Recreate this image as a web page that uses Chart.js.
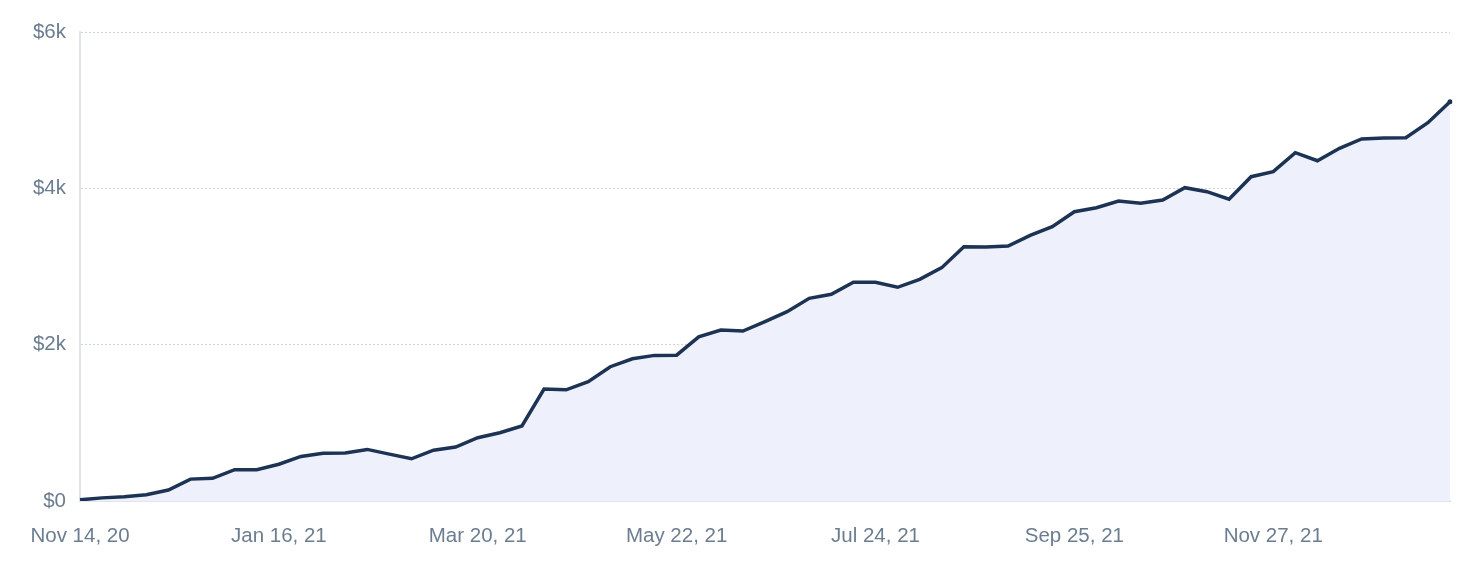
<!DOCTYPE html>
<html>
<head>
<meta charset="utf-8">
<script src="https://cdn.jsdelivr.net/npm/chart.js@4/dist/chart.umd.min.js"></script>
<style>
  html, body { margin: 0; padding: 0; background: #fff; }
  #wrap { width: 1484px; height: 566px; }
</style>
</head>
<body>
<div id="wrap"><canvas id="revenueChart"></canvas></div>
<script>
// Weekly cumulative revenue
const weeks = [
    'Nov 14, 20', 'Nov 21, 20', 'Nov 28, 20', 'Dec 5, 20', 'Dec 12, 20', 'Dec 19, 20', 'Dec 26, 20',
    'Jan 2, 21', 'Jan 9, 21', 'Jan 16, 21', 'Jan 23, 21', 'Jan 30, 21', 'Feb 6, 21', 'Feb 13, 21',
    'Feb 20, 21', 'Feb 27, 21', 'Mar 6, 21', 'Mar 13, 21', 'Mar 20, 21', 'Mar 27, 21', 'Apr 3, 21',
    'Apr 10, 21', 'Apr 17, 21', 'Apr 24, 21', 'May 1, 21', 'May 8, 21', 'May 15, 21', 'May 22, 21',
    'May 29, 21', 'Jun 5, 21', 'Jun 12, 21', 'Jun 19, 21', 'Jun 26, 21', 'Jul 3, 21', 'Jul 10, 21',
    'Jul 17, 21', 'Jul 24, 21', 'Jul 31, 21', 'Aug 7, 21', 'Aug 14, 21', 'Aug 21, 21', 'Aug 28, 21',
    'Sep 4, 21', 'Sep 11, 21', 'Sep 18, 21', 'Sep 25, 21', 'Oct 2, 21', 'Oct 9, 21', 'Oct 16, 21',
    'Oct 23, 21', 'Oct 30, 21', 'Nov 6, 21', 'Nov 13, 21', 'Nov 20, 21', 'Nov 27, 21', 'Dec 4, 21',
    'Dec 11, 21', 'Dec 18, 21', 'Dec 25, 21', 'Jan 1, 22', 'Jan 8, 22', 'Jan 15, 22', 'Jan 22, 22'
];

const revenue = [
    15, 40, 55, 80, 140, 280, 290, 400, 400, 470,
    570, 612, 615, 660, 600, 540, 650, 690, 810, 874,
    960, 1432, 1422, 1526, 1718, 1820, 1863, 1865, 2100, 2187,
    2175, 2295, 2422, 2593, 2644, 2798, 2798, 2734, 2836, 2985,
    3253, 3250, 3262, 3399, 3509, 3701, 3752, 3838, 3808, 3851,
    4008, 3957, 3860, 4149, 4213, 4456, 4353, 4512, 4631, 4644,
    4648, 4839, 5108
];

const yTicks = [0, 2000, 4000, 6000];
const labelEvery = 9;

document.addEventListener('DOMContentLoaded', function() {
    const ctx = document.getElementById('revenueChart');
    const tickColor = '#6b7d90';
    const tickFont = { family: 'Liberation Sans, Arial, sans-serif', size: 20.5 };
    const lastIndex = revenue.length - 1;

    new Chart(ctx.getContext('2d'), {
        type: 'line',
        data: {
            labels: weeks,
            datasets: [{
                data: revenue,
                borderColor: '#1d3354',
                backgroundColor: '#eef1fb',
                borderWidth: 3.5,
                fill: 'origin',
                tension: 0,
                pointRadius: ctx => ctx.dataIndex === lastIndex ? 2.5 : 0,
                pointBackgroundColor: '#1d3354',
                pointBorderWidth: 0,
                pointHoverRadius: 0
            }]
        },
        options: {
            responsive: true,
            maintainAspectRatio: false,
            animation: false,
            layout: {
                padding: { top: 32, right: 34, left: 0, bottom: 0 }
            },
            plugins: {
                legend: { display: false },
                tooltip: { enabled: false }
            },
            scales: {
                x: {
                    grid: { display: false, drawTicks: false },
                    border: { display: true, color: '#e1e5ec', width: 2 },
                    ticks: {
                        autoSkip: false,
                        maxRotation: 0,
                        padding: 23,
                        color: tickColor,
                        font: tickFont,
                        callback: function(value, index) {
                            return index % labelEvery === 0 ? weeks[index] : '';
                        }
                    },
                    afterFit: function(scale) { scale.height = 65; }
                },
                y: {
                    min: yTicks[0],
                    max: yTicks[yTicks.length - 1],
                    afterBuildTicks: function(scale) {
                        scale.ticks = yTicks.map(v => ({ value: v }));
                    },
                    grid: {
                        color: '#cdd3dc',
                        lineWidth: 1,
                        drawTicks: false
                    },
                    border: { display: true, color: '#dfe4ec', width: 2, dash: [2, 2] },
                    ticks: {
                        padding: 14,
                        color: tickColor,
                        font: tickFont,
                        callback: function(value) {
                            return value === 0 ? '$0' : '$' + (value / 1000) + 'k';
                        }
                    },
                    afterFit: function(scale) { scale.width = 80; }
                }
            }
        }
    });
});
</script>
</body>
</html>
